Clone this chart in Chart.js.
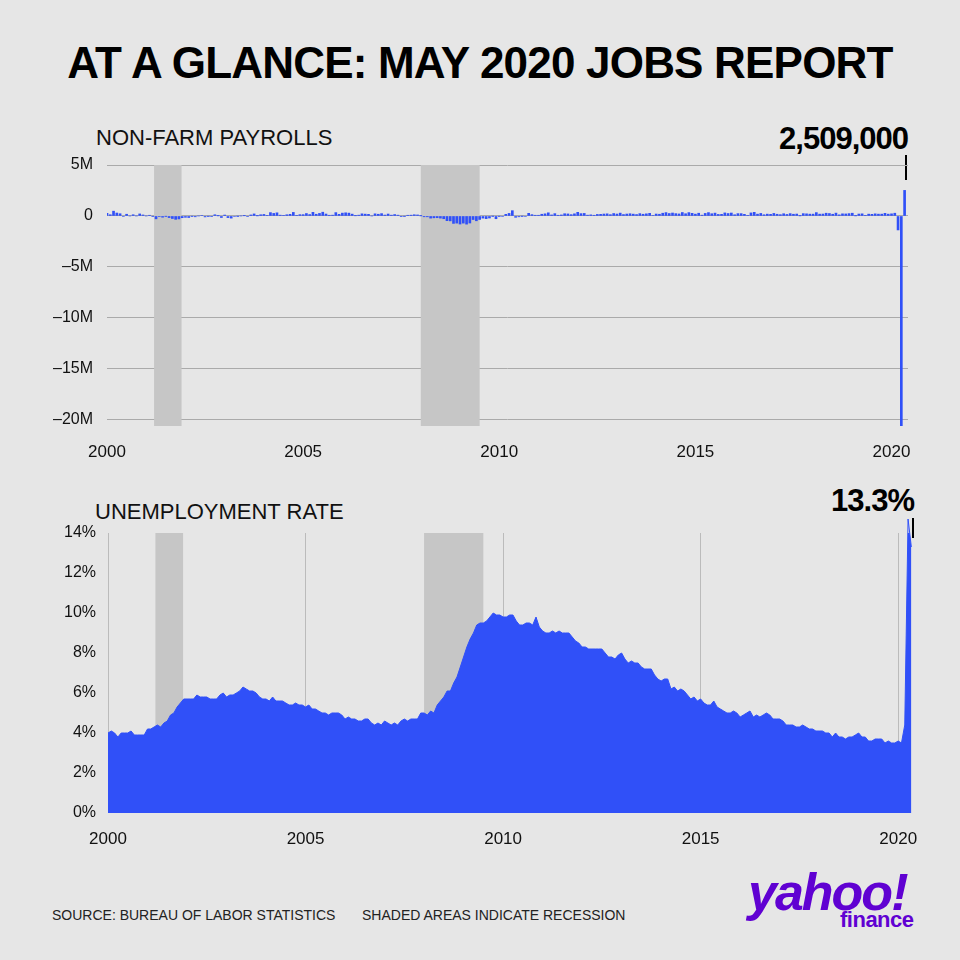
<!DOCTYPE html>
<html><head><meta charset="utf-8">
<script src="https://cdn.jsdelivr.net/npm/chart.js@4"></script>
<style>
body{margin:0;background:#e6e6e6;width:960px;height:960px;overflow:hidden;position:relative;font-family:"Liberation Sans",Arial,sans-serif;}
.abs{position:absolute;white-space:nowrap;}
#title{left:0;width:960px;text-align:center;top:38px;font-family:"Liberation Sans",sans-serif;font-weight:bold;font-size:44px;color:#000;letter-spacing:-0.8px;}
.lbl{font-size:22px;color:#111;}
.big{font-family:"Liberation Sans",sans-serif;font-weight:bold;font-size:31px;color:#000;letter-spacing:-1px;}
.foot{font-size:14px;color:#222;}
</style></head><body>
<div id="title" class="abs">AT A GLANCE: MAY 2020 JOBS REPORT</div>
<div class="abs lbl" style="left:96px;top:125px;">NON-FARM PAYROLLS</div>
<div class="abs big" style="right:52px;top:121px;">2,509,000</div>
<div class="abs" style="left:905px;top:155px;width:2px;height:25px;background:#000"></div>
<div class="abs lbl" style="left:95px;top:499px;">UNEMPLOYMENT RATE</div>
<div class="abs big" style="right:46px;top:483px;">13.3%</div>
<div class="abs" style="left:912px;top:518px;width:2px;height:20px;background:#000"></div>
<div class="abs foot" style="left:52px;top:907px;">SOURCE: BUREAU OF LABOR STATISTICS</div>
<div class="abs foot" style="left:362px;top:907px;">SHADED AREAS INDICATE RECESSION</div>
<div class="abs" style="left:748px;top:862px;color:#6001d2;font-weight:bold;font-style:italic;font-size:52px;font-family:'Liberation Sans',sans-serif;letter-spacing:-2px;">yahoo!</div>
<div class="abs" style="left:840px;top:907px;color:#6001d2;font-weight:bold;font-size:22px;font-family:'Liberation Sans',sans-serif;letter-spacing:-0.5px;">finance</div>
<div class="abs" style="left:0;top:140px;width:960px;height:330px;"><canvas id="c1"></canvas></div>
<div class="abs" style="left:0;top:500px;width:960px;height:360px;"><canvas id="c2"></canvas></div>
<script>
const years=[2000,2001,2002,2003,2004,2005,2006,2007,2008,2009,2010,2011,2012,2013,2014,2015,2016,2017,2018,2019,2020];
const unemployment=[
4.0,4.1,4.0,3.8,4.0,4.0,4.0,4.1,3.9,3.9,3.9,3.9,
4.2,4.2,4.3,4.4,4.3,4.5,4.6,4.9,5.0,5.3,5.5,5.7,
5.7,5.7,5.7,5.9,5.8,5.8,5.8,5.7,5.7,5.7,5.9,6.0,
5.8,5.9,5.9,6.0,6.1,6.3,6.2,6.1,6.1,6.0,5.8,5.7,
5.7,5.6,5.8,5.6,5.6,5.6,5.5,5.4,5.4,5.5,5.4,5.4,
5.3,5.4,5.2,5.2,5.1,5.0,5.0,4.9,5.0,5.0,5.0,4.9,
4.7,4.8,4.7,4.7,4.6,4.6,4.7,4.7,4.5,4.4,4.5,4.4,
4.6,4.5,4.4,4.5,4.4,4.6,4.7,4.6,4.7,4.7,4.7,5.0,
5.0,4.9,5.1,5.0,5.4,5.6,5.8,6.1,6.1,6.5,6.8,7.3,
7.8,8.3,8.7,9.0,9.4,9.5,9.5,9.6,9.8,10.0,9.9,9.9,
9.8,9.8,9.9,9.9,9.6,9.4,9.4,9.5,9.5,9.4,9.8,9.3,
9.1,9.0,9.0,9.1,9.0,9.1,9.0,9.0,9.0,8.8,8.6,8.5,
8.3,8.3,8.2,8.2,8.2,8.2,8.2,8.0,7.8,7.8,7.7,7.9,
8.0,7.7,7.5,7.6,7.5,7.5,7.3,7.2,7.2,7.2,6.9,6.7,
6.6,6.7,6.7,6.2,6.3,6.1,6.2,6.1,5.9,5.7,5.8,5.6,
5.7,5.5,5.4,5.4,5.6,5.3,5.2,5.1,5.0,5.0,5.1,5.0,
4.8,4.9,5.0,5.1,4.8,4.9,4.8,4.9,5.0,4.9,4.7,4.7,
4.7,4.6,4.4,4.4,4.4,4.3,4.3,4.4,4.3,4.2,4.2,4.1,
4.1,4.1,4.0,4.0,3.8,4.0,3.8,3.8,3.7,3.8,3.8,3.9,
4.0,3.8,3.8,3.6,3.6,3.7,3.7,3.7,3.5,3.6,3.5,3.5,
3.6,3.5,4.4,14.7,13.3];
const payrolls=[ // thousands
250,120,470,290,220,-50,170,0,120,0,200,100,
0,70,-30,-280,-40,-120,-20,-160,-250,-330,-290,-170,
-130,-150,-20,-80,0,50,-90,-20,-60,120,10,-150,
90,-160,-210,-50,-10,0,20,-40,100,200,10,120,
150,40,330,250,310,80,40,120,160,350,60,130,
130,240,140,360,170,250,370,190,70,80,330,160,
280,310,280,180,20,80,210,180,160,0,210,170,
230,90,190,80,140,80,-30,-20,70,80,120,100,
10,-80,-80,-210,-180,-170,-210,-270,-460,-480,-730,-700,
-790,-700,-800,-690,-350,-470,-340,-210,-260,-200,-10,-270,
-20,-50,160,250,520,-130,-80,-10,-50,260,130,70,
70,170,210,310,100,230,70,100,220,200,130,210,
360,230,250,80,110,70,150,160,190,210,130,240,
190,280,140,190,220,180,140,230,170,210,260,50,
190,170,270,330,240,290,230,200,340,220,330,260,
180,270,80,250,330,220,280,150,160,300,240,290,
120,230,230,160,40,300,360,180,250,120,180,160,
250,170,130,220,150,230,170,190,10,230,210,180,
180,330,180,190,270,240,170,280,110,210,200,230,
270,10,190,210,60,180,160,210,180,180,260,180,
210,270,-1370,-20687,2509];
const recessions=[[2001.2,2001.9],[2008.0,2009.5]];
const xTicks=[2000,2005,2010,2015,2020];

const mx=(i)=>years[0]+i/12;
const BLUE='#3050f8';
Chart.defaults.font.family='"Liberation Sans",Arial,sans-serif';
Chart.defaults.color='#111';
const shade={id:'shade',beforeDatasetsDraw(ch){const {ctx,chartArea:a,scales:{x}}=ch;ctx.save();ctx.fillStyle='#c6c6c6';
 recessions.forEach(r=>{const x0=x.getPixelForValue(r[0]),x1=x.getPixelForValue(r[1]);ctx.fillRect(x0,a.top,x1-x0,a.bottom-a.top);});ctx.restore();}};
function xScale(min,max,grid){return {type:'linear',min,max,offset:false,bounds:'ticks',afterBuildTicks(s){s.ticks=xTicks.map(v=>({value:v}));},
 afterDataLimits(s){s.min=min;s.max=max;},
 grid:{display:grid,color:'#bbb',drawTicks:false,offset:false},border:{display:false},
 ticks:{font:{size:17},color:'#111',padding:16,callback:v=>String(v)},afterFit(s){s.height=grid?47:44;}};}
new Chart(document.getElementById('c1'),{type:'bar',
 data:{datasets:[{data:payrolls.map((v,i)=>({x:mx(i),y:v/1000})),backgroundColor:BLUE,barThickness:2}]},
 options:{responsive:true,maintainAspectRatio:false,animation:false,
  layout:{padding:{top:25,right:52,left:0,bottom:0}},
  plugins:{legend:{display:false},tooltip:{enabled:false}},
  scales:{x:xScale(2000,2020.42,false),
   y:{min:-20.6,max:5,afterBuildTicks(s){s.ticks=[5,0,-5,-10,-15,-20].map(v=>({value:v}));},
    grid:{color:'#aaa',drawTicks:false},border:{display:false},
    ticks:{font:{size:16},color:'#111',padding:14,callback:v=>v===0?'0':(v<0?'\u2013'+(-v)+'M':v+'M')},
    afterFit(s){s.width=107;}}}},plugins:[shade]});
new Chart(document.getElementById('c2'),{type:'line',
 data:{datasets:[{data:unemployment.map((v,i)=>({x:mx(i),y:v})),backgroundColor:BLUE,borderColor:BLUE,borderWidth:1,fill:'origin',pointRadius:0,tension:0,clip:false}]},
 options:{responsive:true,maintainAspectRatio:false,animation:false,
  layout:{padding:{top:33,right:48,left:0,bottom:0}},
  plugins:{legend:{display:false},tooltip:{enabled:false}},
  scales:{x:xScale(2000,2020.35,true),
   y:{min:0,max:14,ticks:{stepSize:2,font:{size:16},color:'#111',padding:12,callback:v=>v+'%'},
    grid:{display:false,drawTicks:false},border:{display:false},afterFit(s){s.width=108;}}}},plugins:[shade]});
</script></body></html>
